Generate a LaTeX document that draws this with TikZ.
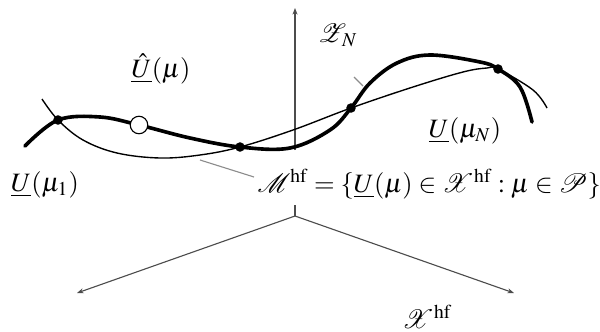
\documentclass[tikz,border=0pt]{standalone}
\usepackage{mathptmx}
\usepackage{mathrsfs}
\usetikzlibrary{arrows.meta}
\begin{document}
\begin{tikzpicture}[x=0.377pt,y=-0.377pt,
  axis/.style={draw=black!70, line width=0.42pt},
  tip/.style={-{Stealth[length=2.5pt,width=1.9pt]}},
  thickcurve/.style={line width=1.37pt, line cap=round},
  thincurve/.style={line width=0.52pt},
  dot/.style={circle, fill=black, inner sep=0pt, minimum size=3.6pt},
  hollow/.style={circle, draw=black, fill=white, line width=0.42pt, inner sep=0pt, minimum size=6.6pt},
  lbl/.style={inner sep=0pt},
  pointer/.style={draw=black!45, line width=0.42pt}]
\useasboundingbox (0,0) rectangle (600,331);
% axes
\coordinate (O) at (295,216);
\coordinate (L) at (77,293);
\coordinate (R) at (514,293);
\coordinate (Ttop) at (295,8);
\coordinate (Tbase) at (295,150);
\coordinate (Tstub) at (295,205);
\draw[axis,tip] (O) -- (L);
\draw[axis,tip] (O) -- (R);
\draw[axis] (O) -- (Tstub);
\draw[axis,tip] (Tbase) -- (Ttop);
% pointers
\coordinate (p1) at (200,160);
\coordinate (p2) at (254,177);
\draw[pointer] (p1) -- (p2);
\coordinate (q1) at (354,77);
\coordinate (q2) at (363,86);
\draw[pointer] (q1) -- (q2);
% thin curve
\draw[thincurve] plot[smooth, tension=0.6] coordinates {(42,99) (58,120) (83,140) (117,153) (160,158) (200,155) (240,147) (293,130) (351,108) (413,87) (463,72) (487,68) (498,69) (533,90) (547,108)};
% thick curve
\draw[thickcurve] plot[smooth, tension=0.6] coordinates {(25,146) (58,120) (100,117) (139,125) (190,138) (240,147) (290,148) (330,130) (351,108) (370,83) (397,63) (430,55) (480,62) (498,69) (520,87) (532,122)};
% points
\node[dot] (d1) at (58,120) {};
\node[dot] (d2) at (240,147) {};
\node[dot] (d3) at (351,108) {};
\node[dot] (d4) at (498,69) {};
\node[hollow] (c1) at (139,125) {};
% labels
\node[lbl] (uhat) at (161,69) {$\underline{\hat{U}}(\mu)$};
\node[lbl] (zn) at (338,35) {$\mathscr{Z}_{\,N}$};
\node[lbl] (uN) at (465,131) {$\underline{U}(\mu_N)$};
\node[lbl] (u1) at (45,185) {$\underline{U}(\mu_1)$};
\node[lbl, anchor=base west] (M) at (257,192) {$\mathscr{M}^{\mathrm{hf}}=\{\underline{U}(\mu)\in\mathscr{X}^{\mathrm{hf}}:\mu\in\mathscr{P}\}$};
\node[lbl] (X) at (427,317) {$\mathscr{X}^{\mathrm{hf}}$};
\end{tikzpicture}
\end{document}
